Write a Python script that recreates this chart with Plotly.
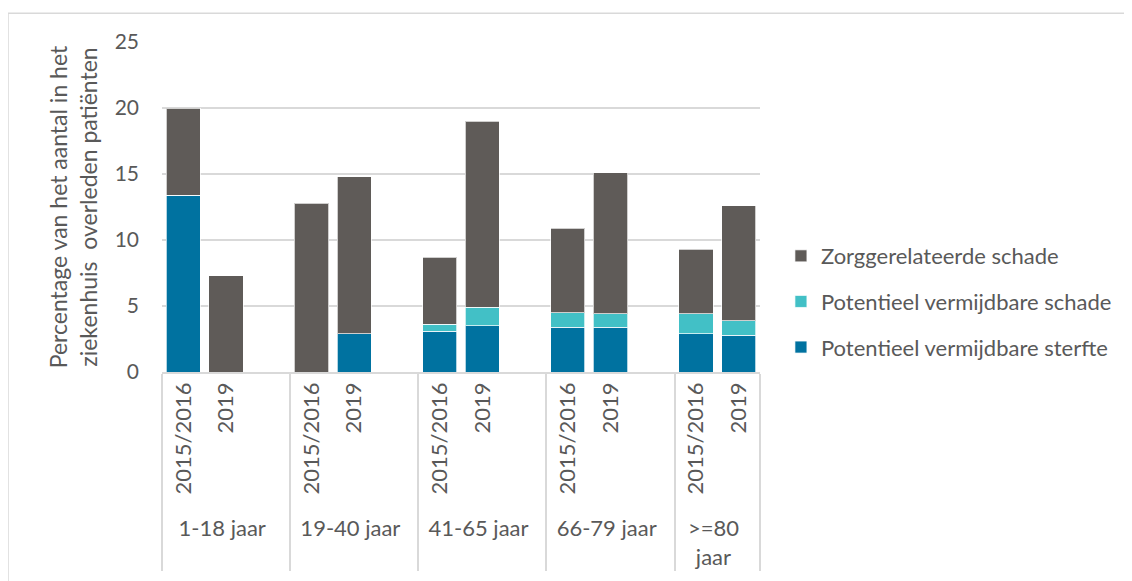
import plotly.graph_objects as go

groups = ["1-18 jaar", "19-40 jaar", "41-65 jaar", "66-79 jaar", ">=80<br>jaar"]
periods = ["2015/2016", "2019"]

# values per group: [2015/2016, 2019]
sterfte = [[13.4, 0.0], [0.0, 2.9], [3.1, 3.5], [3.4, 3.4], [2.9, 2.8]]
verm_schade = [[0.0, 0.0], [0.0, 0.0], [0.5, 1.4], [1.1, 1.0], [1.5, 1.1]]
zorg_schade = [[6.6, 7.3], [12.8, 11.9], [5.1, 14.1], [6.4, 10.7], [4.9, 8.7]]

series_names = ["Potentieel vermijdbare sterfte", "Potentieel vermijdbare schade", "Zorggerelateerde schade"]
series_colors = ["#0072A0", "#42C0C6", "#5F5B58"]
legend_ranks = [3, 2, 1]
y_ticks = [0, 5, 10, 15, 20, 25]

# build multicategory x with a blank gap slot after each group except the last
x_groups, x_cats = [], []
idx = []
for gi, g in enumerate(groups):
    for pi, p in enumerate(periods):
        x_groups.append(g); x_cats.append(p); idx.append((gi, pi))
    if gi < len(groups) - 1:
        x_groups.append(g); x_cats.append(" "); idx.append(None)

def col(data):
    return [None if k is None else data[k[0]][k[1]] for k in idx]

fig = go.Figure()
for name, data, color, rank in zip(series_names, [sterfte, verm_schade, zorg_schade],
                                   series_colors, legend_ranks):
    fig.add_trace(go.Bar(
        x=[x_groups, x_cats], y=col(data), name=name, legendgroup=name, legendrank=rank,
        marker=dict(color=color, line=dict(color="rgba(255,255,255,0.7)", width=1)),
    ))

FONT = "Lato"
TXT = "#595959"
# page body adds an 8px offset; compensate in the figure size / margins
W, H = 1124, 573
L, T, PW, PH = 154, 34, 598, 334
fig.update_layout(
    width=W, height=H,
    barmode="stack", bargap=0.2,
    plot_bgcolor="white", paper_bgcolor="white",
    margin=dict(l=L, r=W - L - PW, t=T, b=H - T - PH),
    font=dict(family=FONT, size=22, color=TXT),
    legend=dict(x=1.035, y=0.415, xanchor="left", yanchor="top",
                traceorder="grouped", tracegroupgap=14,
                font=dict(family=FONT, size=22, color=TXT)),
    xaxis=dict(type="multicategory", tickangle=-90, showline=True, linecolor="#D9D9D9",
               linewidth=1.5, showdividers=True, dividercolor="#D9D9D9", dividerwidth=1.5,
               tickfont=dict(family=FONT, size=22, color=TXT), ticks=""),
    yaxis=dict(range=[0, 25], tickvals=y_ticks, showgrid=True, gridcolor="#D9D9D9",
               gridwidth=1.5, zeroline=False, ticks="", ticklabelstandoff=22,
               tickfont=dict(family=FONT, size=21, color=TXT),
               title=dict(text="Percentage van het aantal in het<br>ziekenhuis  overleden patiënten",
                          font=dict(family=FONT, size=23, color=TXT), standoff=10)),
    shapes=[dict(type="rect", xref="paper", yref="paper",
                 x0=(0 - L) / PW, x1=(W + 20 - L) / PW,
                 y0=-(H + 20 - T - PH) / PH, y1=1 + (T - 5) / PH,
                 line=dict(color="#D9D9D9", width=1.5), layer="below")],
)

fig.write_html("out.html")
